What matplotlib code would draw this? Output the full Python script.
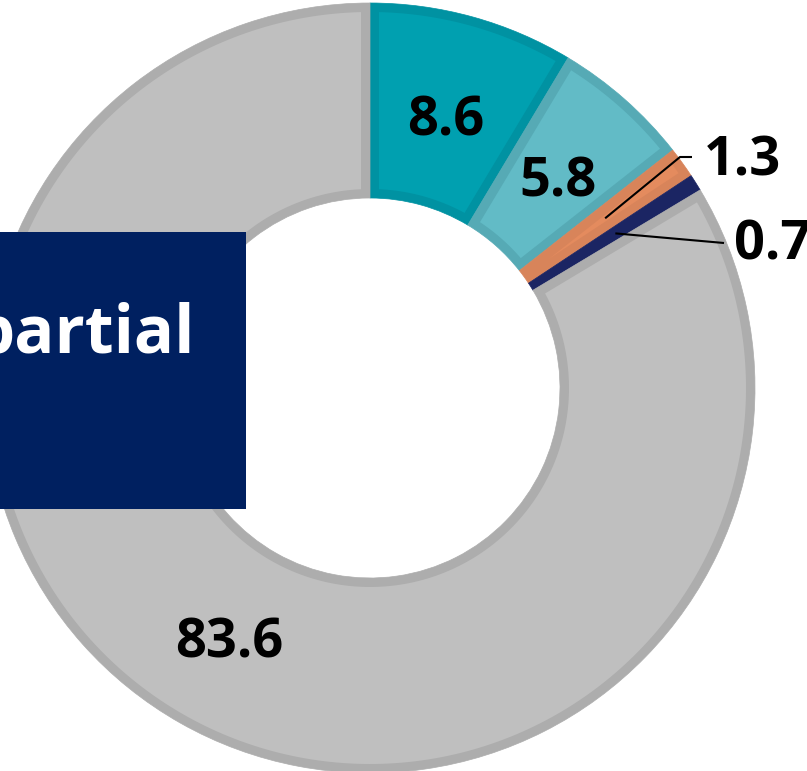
import matplotlib
matplotlib.use('Agg')
import matplotlib.pyplot as plt
from matplotlib.patches import Rectangle, Polygon
import numpy as np

# ---- data ----
categories = ['Seg A', 'Seg B', 'Seg C', 'Seg D', 'Rest']
values = [8.6, 5.8, 1.3, 0.7, 83.6]
labels = ['8.6', '5.8', '1.3', '0.7', '83.6']
fill_colors = ['#00A0B0', '#62BBC6', '#E48B5E', '#182262', '#BFBFBF']
edge_colors = ['#0092A2', '#56AAB5', '#D8845A', '#1B2563', '#ADADAD']
box_text = 'partial'

W, H = 807, 771
fig = plt.figure(figsize=(W / 100, H / 100), dpi=100)
ax = fig.add_axes([0, 0, 1, 1])

cx, cy = 370, H - 388
R, ring = 385, 195
d = 9  # inner stroke width in px (1 data unit = 1 px)

wedges, _ = ax.pie(values, colors=edge_colors, startangle=90, counterclock=False,
                   radius=R, center=(cx, cy), wedgeprops=dict(width=ring))

ax.set_xlim(0, W)
ax.set_ylim(0, H)
ax.set_aspect('auto')
ax.axis('off')

# inner stroke effect: wedge filled with edge colour, inset region with fill colour
for w, fc, ec in zip(wedges, fill_colors, edge_colors):
    w.set_edgecolor(ec)
    w.set_linewidth(0.5)
    t1, t2 = np.deg2rad(w.theta1), np.deg2rad(w.theta2)
    r_out = w.r - d
    r_in = w.r - w.width + d
    dth = t2 - t1
    if dth < np.pi:
        r_in = max(r_in, d / np.sin(dth / 2) + 0.01)
    if r_in >= r_out:
        continue
    a_o = np.arcsin(d / r_out)
    a_i = np.arcsin(d / r_in)
    phi_o = np.linspace(t1 + a_o, t2 - a_o, 300)
    phi_i = np.linspace(t2 - a_i, t1 + a_i, 300)
    xs = np.concatenate([cx + r_out * np.cos(phi_o), cx + r_in * np.cos(phi_i)])
    ys = np.concatenate([cy + r_out * np.sin(phi_o), cy + r_in * np.sin(phi_i)])
    ax.add_patch(Polygon(np.column_stack([xs, ys]), closed=True, facecolor=fc,
                         edgecolor='none', zorder=w.get_zorder() + 0.1))

font = dict(family=['Open Sans', 'DejaVu Sans'], fontweight='bold', fontsize=39, color='black')

def polar(theta_deg, r):
    t = np.deg2rad(theta_deg)
    return cx + r * np.cos(t), cy + r * np.sin(t)

mids = [(w.theta1 + w.theta2) / 2 for w in wedges]

# inside labels
for i in (0, 1, 4):
    x, y = polar(mids[i], 0.74 * R)
    ax.text(x, y - 8, labels[i], ha='center', va='center', zorder=10, **font)

# outside labels with leader lines
# 1.3
sx, sy = polar(mids[2], 290)
ax.plot([sx, 680, 692], [sy, H - 157, H - 157], color='black', lw=1.5, zorder=9,
        solid_capstyle='butt')
ax.text(704, H - 161, labels[2], ha='left', va='center', zorder=10, **font)
# 0.7
sx, sy = polar(mids[3], 290)
ax.plot([sx, 724], [sy, H - 243], color='black', lw=1.5, zorder=9,
        solid_capstyle='butt')
ax.text(734, H - 246, labels[3], ha='left', va='center', zorder=10, **font)

# navy text box
ax.add_patch(Rectangle((0, H - 509), 246, 277, facecolor='#002060',
                       edgecolor='none', zorder=8))
ax.text(195, H - 353, box_text, ha='right', va='baseline', color='white',
        family=['Open Sans', 'DejaVu Sans'], fontweight='bold', fontsize=48, zorder=9)

fig.savefig('out.png', dpi=100)
